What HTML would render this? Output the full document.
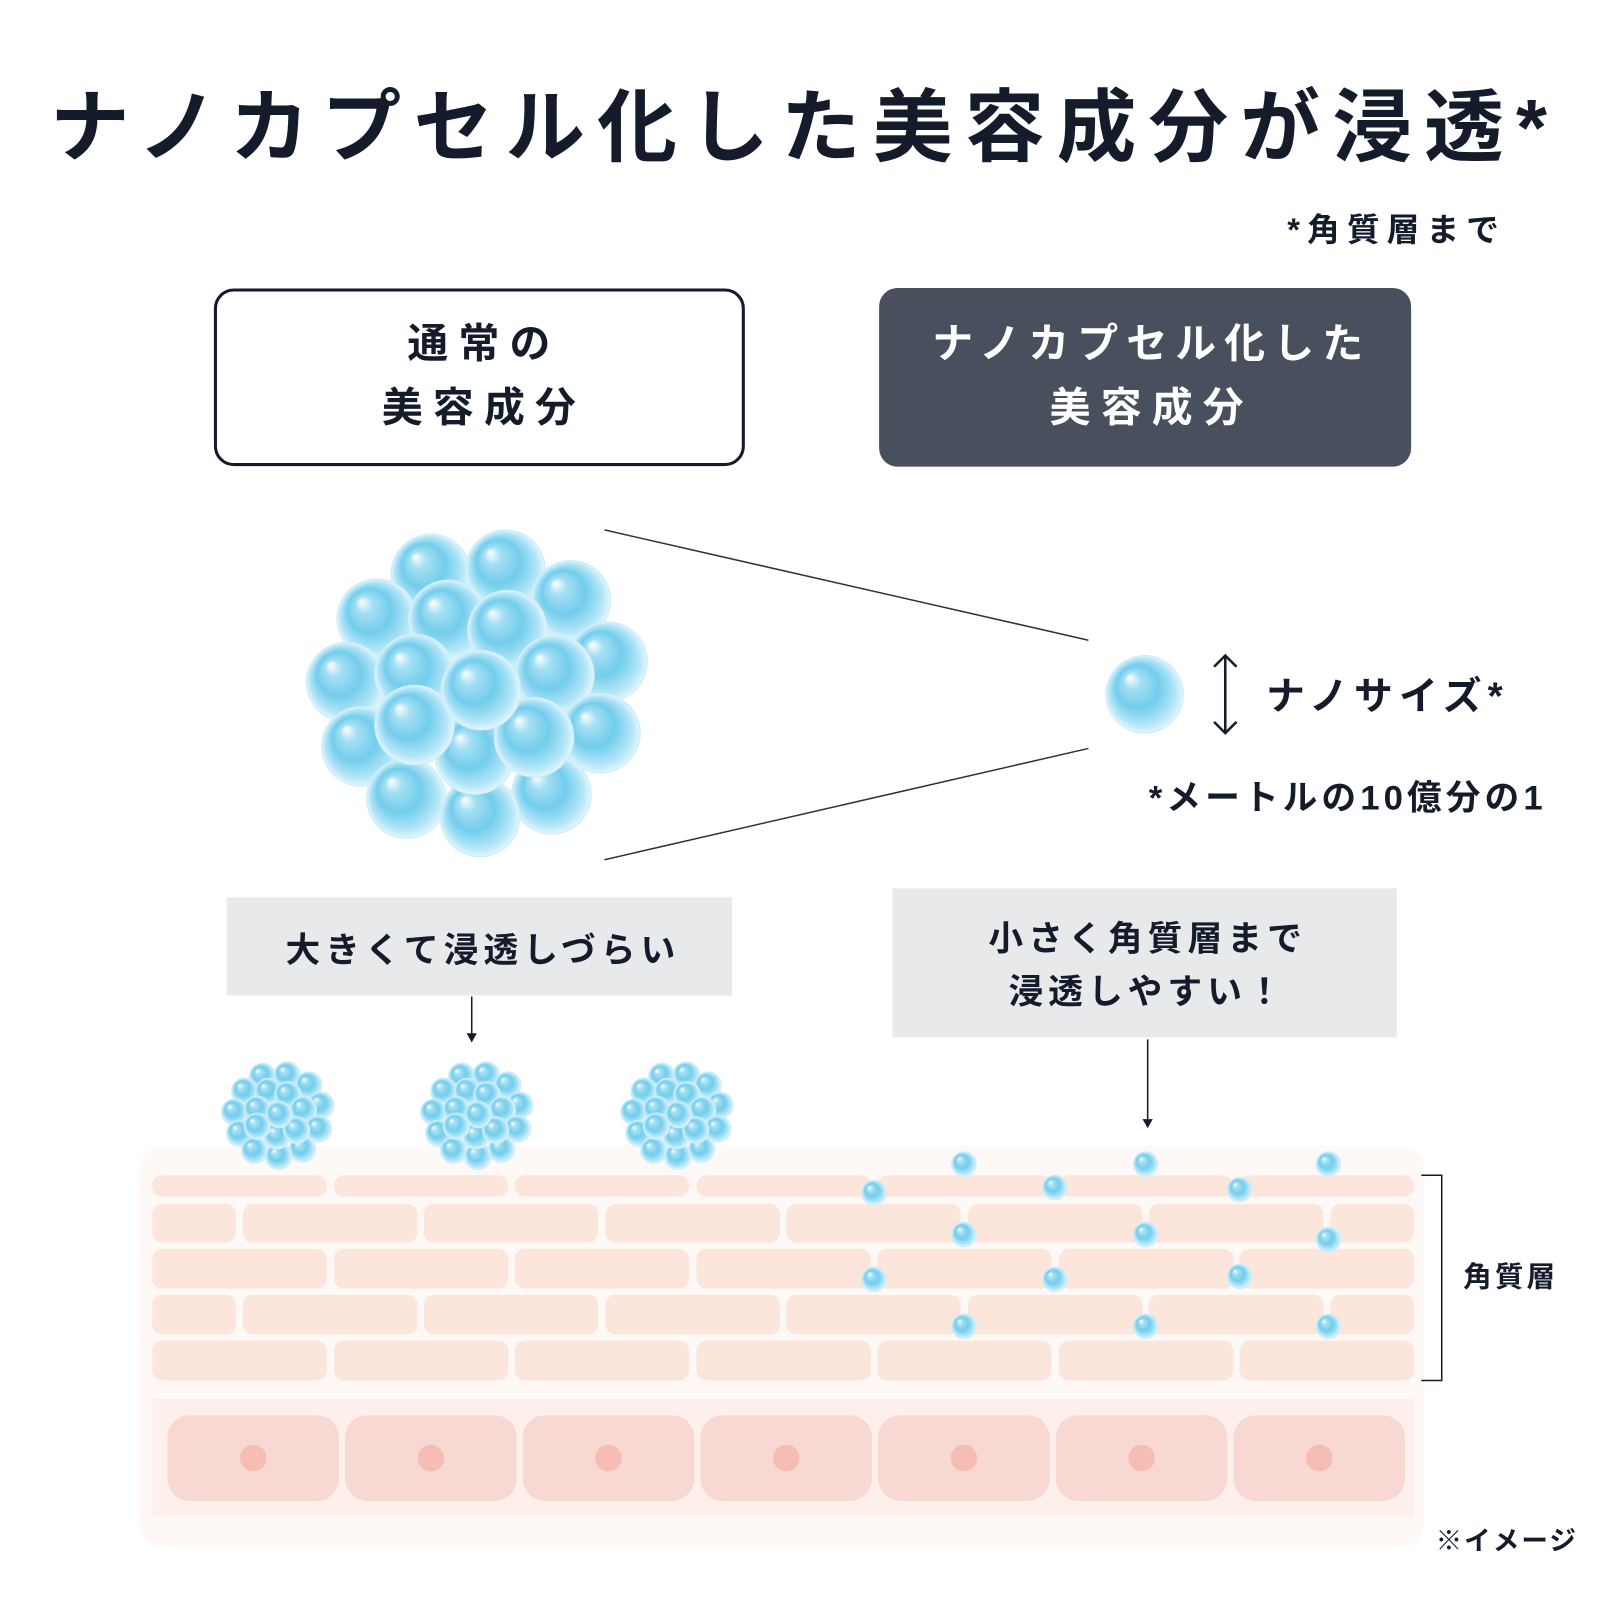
<!DOCTYPE html>
<html><head><meta charset="utf-8"><style>
html,body{margin:0;padding:0;background:#fff;}
svg{display:block;}
text{font-family:"Liberation Sans","Noto Sans CJK JP",sans-serif;fill:#141c2c;font-weight:bold;}
</style></head><body>
<svg width="1600" height="1600" viewBox="0 0 1567 1567" xmlns="http://www.w3.org/2000/svg">
<defs>
<radialGradient id="sp" cx="0.5" cy="0.5" r="0.5" fx="0.3" fy="0.28">
<stop offset="0" stop-color="#ffffff"/>
<stop offset="0.22" stop-color="#a3dff3"/>
<stop offset="0.55" stop-color="#72cdec"/>
<stop offset="0.85" stop-color="#b3e5f7"/>
<stop offset="1" stop-color="#e4f6fd"/>
</radialGradient>
<g id="cl">
<circle cx="422" cy="562" r="39"/><circle cx="495" cy="558" r="39"/><circle cx="559" cy="588" r="39"/>
<circle cx="369" cy="606" r="39"/><circle cx="439" cy="607" r="39"/><circle cx="497" cy="617" r="39"/>
<circle cx="595" cy="648" r="39"/><circle cx="339" cy="668" r="39"/><circle cx="543" cy="661" r="39"/>
<circle cx="406" cy="660" r="39"/><circle cx="354" cy="731" r="39"/><circle cx="588" cy="718" r="39"/>
<circle cx="540" cy="778" r="39"/><circle cx="398" cy="782" r="39"/><circle cx="470" cy="800" r="39"/>
<circle cx="465" cy="739" r="39"/><circle cx="523" cy="722" r="39"/><circle cx="406" cy="710" r="39"/>
<circle cx="471" cy="676" r="39"/>
</g>
</defs>

<text x="788" y="152" font-size="78" text-anchor="middle" letter-spacing="12">ナノカプセル化した美容成分が浸透*</text>
<text x="1475" y="236" font-size="32" text-anchor="end" letter-spacing="7">*角質層まで</text>

<rect x="211" y="284" width="517" height="171" rx="18" fill="#fff" stroke="#141c2c" stroke-width="3"/>
<text x="474" y="350" font-size="40" text-anchor="middle" letter-spacing="10">通常の</text>
<text x="474" y="413" font-size="40" text-anchor="middle" letter-spacing="10">美容成分</text>
<rect x="861" y="282" width="521" height="175" rx="18" fill="#48505e"/>
<text x="1128" y="350" font-size="40" text-anchor="middle" letter-spacing="8" style="fill:#fff">ナノカプセル化した</text>
<text x="1128" y="413" font-size="40" text-anchor="middle" letter-spacing="10" style="fill:#fff">美容成分</text>

<g fill="url(#sp)" stroke="#c8ecfa" stroke-width="1"><use href="#cl"/></g>
<line x1="592" y1="519" x2="1066" y2="627" stroke="#333" stroke-width="1.5"/>
<line x1="592" y1="842" x2="1066" y2="733" stroke="#333" stroke-width="1.5"/>
<circle cx="1121" cy="680" r="38" fill="url(#sp)" stroke="#c8ecfa"/>
<g stroke="#141c2c" stroke-width="2.5" fill="none">
<line x1="1200" y1="642" x2="1200" y2="718"/>
<polyline points="1189,653 1200,642 1211,653"/><polyline points="1189,707 1200,718 1211,707"/>
</g>
<text x="1240" y="695" font-size="38" letter-spacing="6">ナノサイズ*</text>
<text x="1125" y="793" font-size="34" letter-spacing="4">*メートルの10億分の1</text>

<rect x="222" y="879" width="495" height="96" fill="#e8e9eb"/>
<text x="473" y="942" font-size="34" text-anchor="middle" letter-spacing="5">大きくて浸透しづらい</text>
<line x1="462" y1="976" x2="462" y2="1014" stroke="#141c2c" stroke-width="1.5"/>
<polygon points="457,1012 467,1012 462,1021" fill="#141c2c"/>
<rect x="874" y="870" width="494" height="146" fill="#e8e9eb"/>
<text x="1124" y="931" font-size="34" text-anchor="middle" letter-spacing="5">小さく角質層まで</text>
<text x="1124" y="983" font-size="34" text-anchor="middle" letter-spacing="5">浸透しやすい！</text>
<line x1="1124" y1="1018" x2="1124" y2="1098" stroke="#141c2c" stroke-width="1.5"/>
<polygon points="1119,1096 1129,1096 1124,1105" fill="#141c2c"/>

<rect x="137" y="1122" width="1258" height="393" rx="24" fill="#fef8f6"/>
<g fill="#fce6dc">
<rect x="149" y="1151" width="171" height="21" rx="10"/><rect x="327" y="1151" width="171" height="21" rx="10"/><rect x="504" y="1151" width="171" height="21" rx="10"/><rect x="682" y="1151" width="171" height="21" rx="10"/><rect x="859" y="1151" width="171" height="21" rx="10"/><rect x="1037" y="1151" width="171" height="21" rx="10"/><rect x="1214" y="1151" width="171" height="21" rx="10"/>
<rect x="149" y="1223" width="171" height="39" rx="10"/><rect x="327" y="1223" width="171" height="39" rx="10"/><rect x="504" y="1223" width="171" height="39" rx="10"/><rect x="682" y="1223" width="171" height="39" rx="10"/><rect x="859" y="1223" width="171" height="39" rx="10"/><rect x="1037" y="1223" width="171" height="39" rx="10"/><rect x="1214" y="1223" width="171" height="39" rx="10"/>
<rect x="149" y="1313" width="171" height="39" rx="10"/><rect x="327" y="1313" width="171" height="39" rx="10"/><rect x="504" y="1313" width="171" height="39" rx="10"/><rect x="682" y="1313" width="171" height="39" rx="10"/><rect x="859" y="1313" width="171" height="39" rx="10"/><rect x="1037" y="1313" width="171" height="39" rx="10"/><rect x="1214" y="1313" width="171" height="39" rx="10"/>
<rect x="149" y="1179" width="82" height="38" rx="10"/><rect x="238" y="1179" width="171" height="38" rx="10"/><rect x="415" y="1179" width="171" height="38" rx="10"/><rect x="593" y="1179" width="171" height="38" rx="10"/><rect x="770" y="1179" width="171" height="38" rx="10"/><rect x="948" y="1179" width="171" height="38" rx="10"/><rect x="1125" y="1179" width="171" height="38" rx="10"/><rect x="1303" y="1179" width="82" height="38" rx="10"/>
<rect x="149" y="1268" width="82" height="39" rx="10"/><rect x="238" y="1268" width="171" height="39" rx="10"/><rect x="415" y="1268" width="171" height="39" rx="10"/><rect x="593" y="1268" width="171" height="39" rx="10"/><rect x="770" y="1268" width="171" height="39" rx="10"/><rect x="948" y="1268" width="171" height="39" rx="10"/><rect x="1125" y="1268" width="171" height="39" rx="10"/><rect x="1303" y="1268" width="82" height="39" rx="10"/>
</g>
<rect x="149" y="1370" width="1236" height="115" fill="#fdefec"/>
<g fill="#f8d8d2">
<rect x="164" y="1386" width="168" height="84" rx="22"/><rect x="338" y="1386" width="168" height="84" rx="22"/><rect x="512" y="1386" width="168" height="84" rx="22"/><rect x="686" y="1386" width="168" height="84" rx="22"/><rect x="860" y="1386" width="168" height="84" rx="22"/><rect x="1034" y="1386" width="168" height="84" rx="22"/><rect x="1208" y="1386" width="168" height="84" rx="22"/>
</g>
<g fill="#f5bdb4">
<circle cx="248" cy="1428" r="13"/><circle cx="422" cy="1428" r="13"/><circle cx="596" cy="1428" r="13"/><circle cx="770" cy="1428" r="13"/><circle cx="944" cy="1428" r="13"/><circle cx="1118" cy="1428" r="13"/><circle cx="1292" cy="1428" r="13"/>
</g>

<g fill="url(#sp)" stroke="#c8ecfa" stroke-width="3">
<use href="#cl" transform="translate(273,1093) scale(0.33) translate(-470,-680)"/>
<use href="#cl" transform="translate(468,1093) scale(0.33) translate(-470,-680)"/>
<use href="#cl" transform="translate(664,1093) scale(0.33) translate(-470,-680)"/>
</g>
<g fill="url(#sp)" stroke="#c8ecfa">
<circle cx="944" cy="1140" r="12"/><circle cx="1122" cy="1140" r="12"/><circle cx="1301" cy="1140" r="12"/>
<circle cx="856" cy="1168" r="12"/><circle cx="1033" cy="1163" r="12"/><circle cx="1214" cy="1165" r="12"/>
<circle cx="944" cy="1209" r="12"/><circle cx="1122" cy="1209" r="12"/><circle cx="1301" cy="1214" r="12"/>
<circle cx="856" cy="1253" r="12"/><circle cx="1033" cy="1253" r="12"/><circle cx="1214" cy="1250" r="12"/>
<circle cx="944" cy="1299" r="12"/><circle cx="1122" cy="1299" r="12"/><circle cx="1301" cy="1299" r="12"/>
</g>

<polyline points="1392,1151 1412,1151 1412,1352 1392,1352" fill="none" stroke="#141c2c" stroke-width="1.5"/>
<text x="1433" y="1260" font-size="28" letter-spacing="3">角質層</text>
<text x="1406" y="1518" font-size="26" letter-spacing="2">※イメージ</text>
</svg>
</body></html>
